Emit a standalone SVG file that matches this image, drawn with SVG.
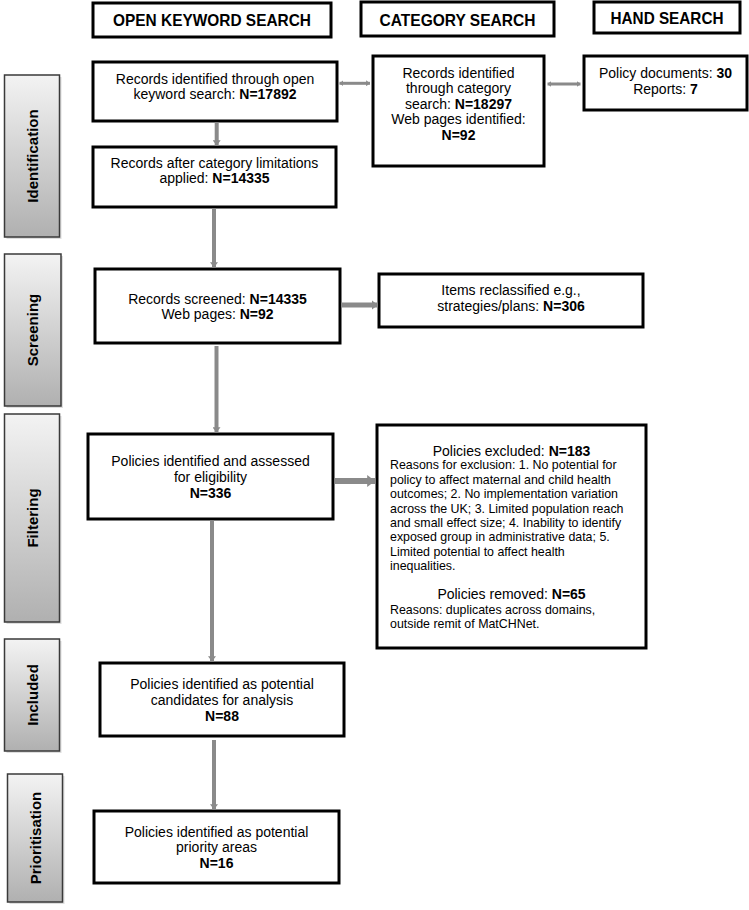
<svg xmlns="http://www.w3.org/2000/svg" width="749" height="910" viewBox="0 0 749 910">
<defs>
<linearGradient id="sideGrad" x1="0" y1="0" x2="0" y2="1">
<stop offset="0" stop-color="#f3f3f3"/>
<stop offset="1" stop-color="#b0b0b0"/>
</linearGradient>
<marker id="ah" viewBox="0 0 6 10" refX="6" refY="5" markerWidth="1.3" markerHeight="2" markerUnits="strokeWidth" orient="auto-start-reverse" preserveAspectRatio="none">
<path d="M0,0 L6,5 L0,10 z" fill="#8a8a8a"/>
</marker>
</defs>
<style>
.box{fill:#ffffff;stroke:#000000;stroke-width:3}
.side{fill:url(#sideGrad);stroke:#3a3a3a;stroke-width:1.5}
.shadow{fill:#c8c8c8;opacity:0.6}
.hdr{font-family:"Liberation Sans",Arial,Helvetica,sans-serif;font-weight:bold;font-size:16.5px;fill:#000;text-anchor:middle}
.t{font-family:"Liberation Sans",Arial,Helvetica,sans-serif;font-size:14px;fill:#000;text-anchor:middle}
.s{font-family:"Liberation Sans",Arial,Helvetica,sans-serif;font-size:12.4px;fill:#000}
.b{font-weight:bold}
.lab{font-family:"Liberation Sans",Arial,Helvetica,sans-serif;font-weight:bold;font-size:15px;fill:#000;text-anchor:middle}
.arr{stroke:#8a8a8a;fill:none;marker-end:url(#ah)}
.dbl{stroke:#8a8a8a;fill:none;marker-start:url(#ah);marker-end:url(#ah)}
</style>

<g id="side-identification">
<rect class="shadow" x="6.5" y="77" width="55" height="162"/>
<rect class="side" x="4.5" y="75" width="55" height="162"/>
<text class="lab" transform="translate(37.5,156) rotate(-90)">Identification</text>
</g>
<g id="side-screening">
<rect class="shadow" x="6.5" y="256" width="56.5" height="152"/>
<rect class="side" x="4.5" y="254" width="56.5" height="152"/>
<text class="lab" transform="translate(38.3,330) rotate(-90)">Screening</text>
</g>
<g id="side-filtering">
<rect class="shadow" x="6.5" y="416" width="55" height="208"/>
<rect class="side" x="4.5" y="414" width="55" height="208"/>
<text class="lab" transform="translate(37.5,518) rotate(-90)">Filtering</text>
</g>
<g id="side-included">
<rect class="shadow" x="6.5" y="641" width="55" height="112"/>
<rect class="side" x="4.5" y="639" width="55" height="112"/>
<text class="lab" transform="translate(37.5,695) rotate(-90)">Included</text>
</g>
<g id="side-prioritisation">
<rect class="shadow" x="9.5" y="776" width="55" height="128"/>
<rect class="side" x="7.5" y="774" width="55" height="128"/>
<text class="lab" transform="translate(40.5,838) rotate(-90)">Prioritisation</text>
</g>

<g id="hdr-open">
<rect class="box" x="93" y="3" width="238" height="34"/>
<text class="hdr" x="212" y="25.7" textLength="198" lengthAdjust="spacingAndGlyphs">OPEN KEYWORD SEARCH</text>
</g>
<g id="hdr-category">
<rect class="box" x="361" y="2" width="193" height="34"/>
<text class="hdr" x="457.5" y="25.5" textLength="156" lengthAdjust="spacingAndGlyphs">CATEGORY SEARCH</text>
</g>
<g id="hdr-hand">
<rect class="box" x="594" y="2" width="146" height="31"/>
<text class="hdr" x="667" y="24" textLength="113" lengthAdjust="spacingAndGlyphs">HAND SEARCH</text>
</g>

<g id="n-open-records">
<rect class="box" x="93" y="62" width="244" height="59"/>
<text class="t" x="215" y="83.5">Records identified through open</text>
<text class="t" x="215" y="99">keyword search: <tspan class="b">N=17892</tspan></text>
</g>
<g id="n-category-records">
<rect class="box" x="373" y="56" width="171" height="110"/>
<text class="t" x="458.5" y="77.5">Records identified</text>
<text class="t" x="458.5" y="93">through category</text>
<text class="t" x="458.5" y="108.5">search: <tspan class="b">N=18297</tspan></text>
<text class="t" x="458.5" y="124">Web pages identified:</text>
<text class="t b" x="458.5" y="139.5">N=92</text>
</g>
<g id="n-hand">
<rect class="box" x="584" y="56" width="163" height="54"/>
<text class="t" x="665.5" y="78">Policy documents: <tspan class="b">30</tspan></text>
<text class="t" x="665.5" y="93.5">Reports: <tspan class="b">7</tspan></text>
</g>
<g id="n-category-limits">
<rect class="box" x="93" y="147" width="243" height="60"/>
<text class="t" x="214.5" y="167.7">Records after category limitations</text>
<text class="t" x="214.5" y="183.3">applied: <tspan class="b">N=14335</tspan></text>
</g>
<g id="n-screened">
<rect class="box" x="95" y="269" width="245" height="74"/>
<text class="t" x="217.5" y="303.5">Records screened: <tspan class="b">N=14335</tspan></text>
<text class="t" x="217.5" y="319.3">Web pages: <tspan class="b">N=92</tspan></text>
</g>
<g id="n-reclassified">
<rect class="box" x="379" y="274" width="264" height="53"/>
<text class="t" x="511" y="295">Items reclassified e.g.,</text>
<text class="t" x="511" y="310.7">strategies/plans: <tspan class="b">N=306</tspan></text>
</g>
<g id="n-eligibility">
<rect class="box" x="88" y="434" width="245" height="85"/>
<text class="t" x="210.5" y="466">Policies identified and assessed</text>
<text class="t" x="210.5" y="481.7">for eligibility</text>
<text class="t b" x="210.5" y="497.7">N=336</text>
</g>
<g id="n-excluded">
<rect class="box" x="377" y="425" width="269" height="223"/>
<text class="t" x="511.5" y="455.5">Policies excluded: <tspan class="b">N=183</tspan></text>
<text class="s" x="390" y="469.3">Reasons for exclusion: 1. No potential for</text>
<text class="s" x="390" y="483.7">policy to affect maternal and child health</text>
<text class="s" x="390" y="498.1">outcomes; 2. No implementation variation</text>
<text class="s" x="390" y="512.5">across the UK; 3. Limited population reach</text>
<text class="s" x="390" y="526.9">and small effect size; 4. Inability to identify</text>
<text class="s" x="390" y="541.3">exposed group in administrative data; 5.</text>
<text class="s" x="390" y="555.7">Limited potential to affect health</text>
<text class="s" x="390" y="570.1">inequalities.</text>
<text class="t" x="511.5" y="599.3">Policies removed: <tspan class="b">N=65</tspan></text>
<text class="s" x="390" y="614">Reasons: duplicates across domains,</text>
<text class="s" x="390" y="628.4">outside remit of MatCHNet.</text>
</g>
<g id="n-included">
<rect class="box" x="100" y="663" width="244" height="73"/>
<text class="t" x="222" y="689.3">Policies identified as potential</text>
<text class="t" x="222" y="704.8">candidates for analysis</text>
<text class="t b" x="222" y="720.7">N=88</text>
</g>
<g id="n-priority">
<rect class="box" x="94" y="811" width="245" height="72"/>
<text class="t" x="216.5" y="836.7">Policies identified as potential</text>
<text class="t" x="216.5" y="852.3">priority areas</text>
<text class="t b" x="216.5" y="868.3">N=16</text>
</g>

<g id="connectors">
<line class="dbl" x1="339.5" y1="83.3" x2="370" y2="83.3" stroke-width="3"/>
<line class="dbl" x1="547.5" y1="84" x2="580.5" y2="84" stroke-width="3"/>
<line class="arr" x1="216.7" y1="122.5" x2="216.7" y2="145.5" stroke-width="4"/>
<line class="arr" x1="214" y1="208.5" x2="214" y2="267.5" stroke-width="4"/>
<line class="arr" x1="341" y1="305" x2="378" y2="305" stroke-width="5"/>
<line class="arr" x1="216.5" y1="346" x2="216.5" y2="432.5" stroke-width="4"/>
<line class="arr" x1="335" y1="481" x2="375" y2="481" stroke-width="6"/>
<line class="arr" x1="212" y1="520.5" x2="212" y2="661.5" stroke-width="4"/>
<line class="arr" x1="214" y1="740" x2="214" y2="809.5" stroke-width="4"/>
</g>
</svg>
